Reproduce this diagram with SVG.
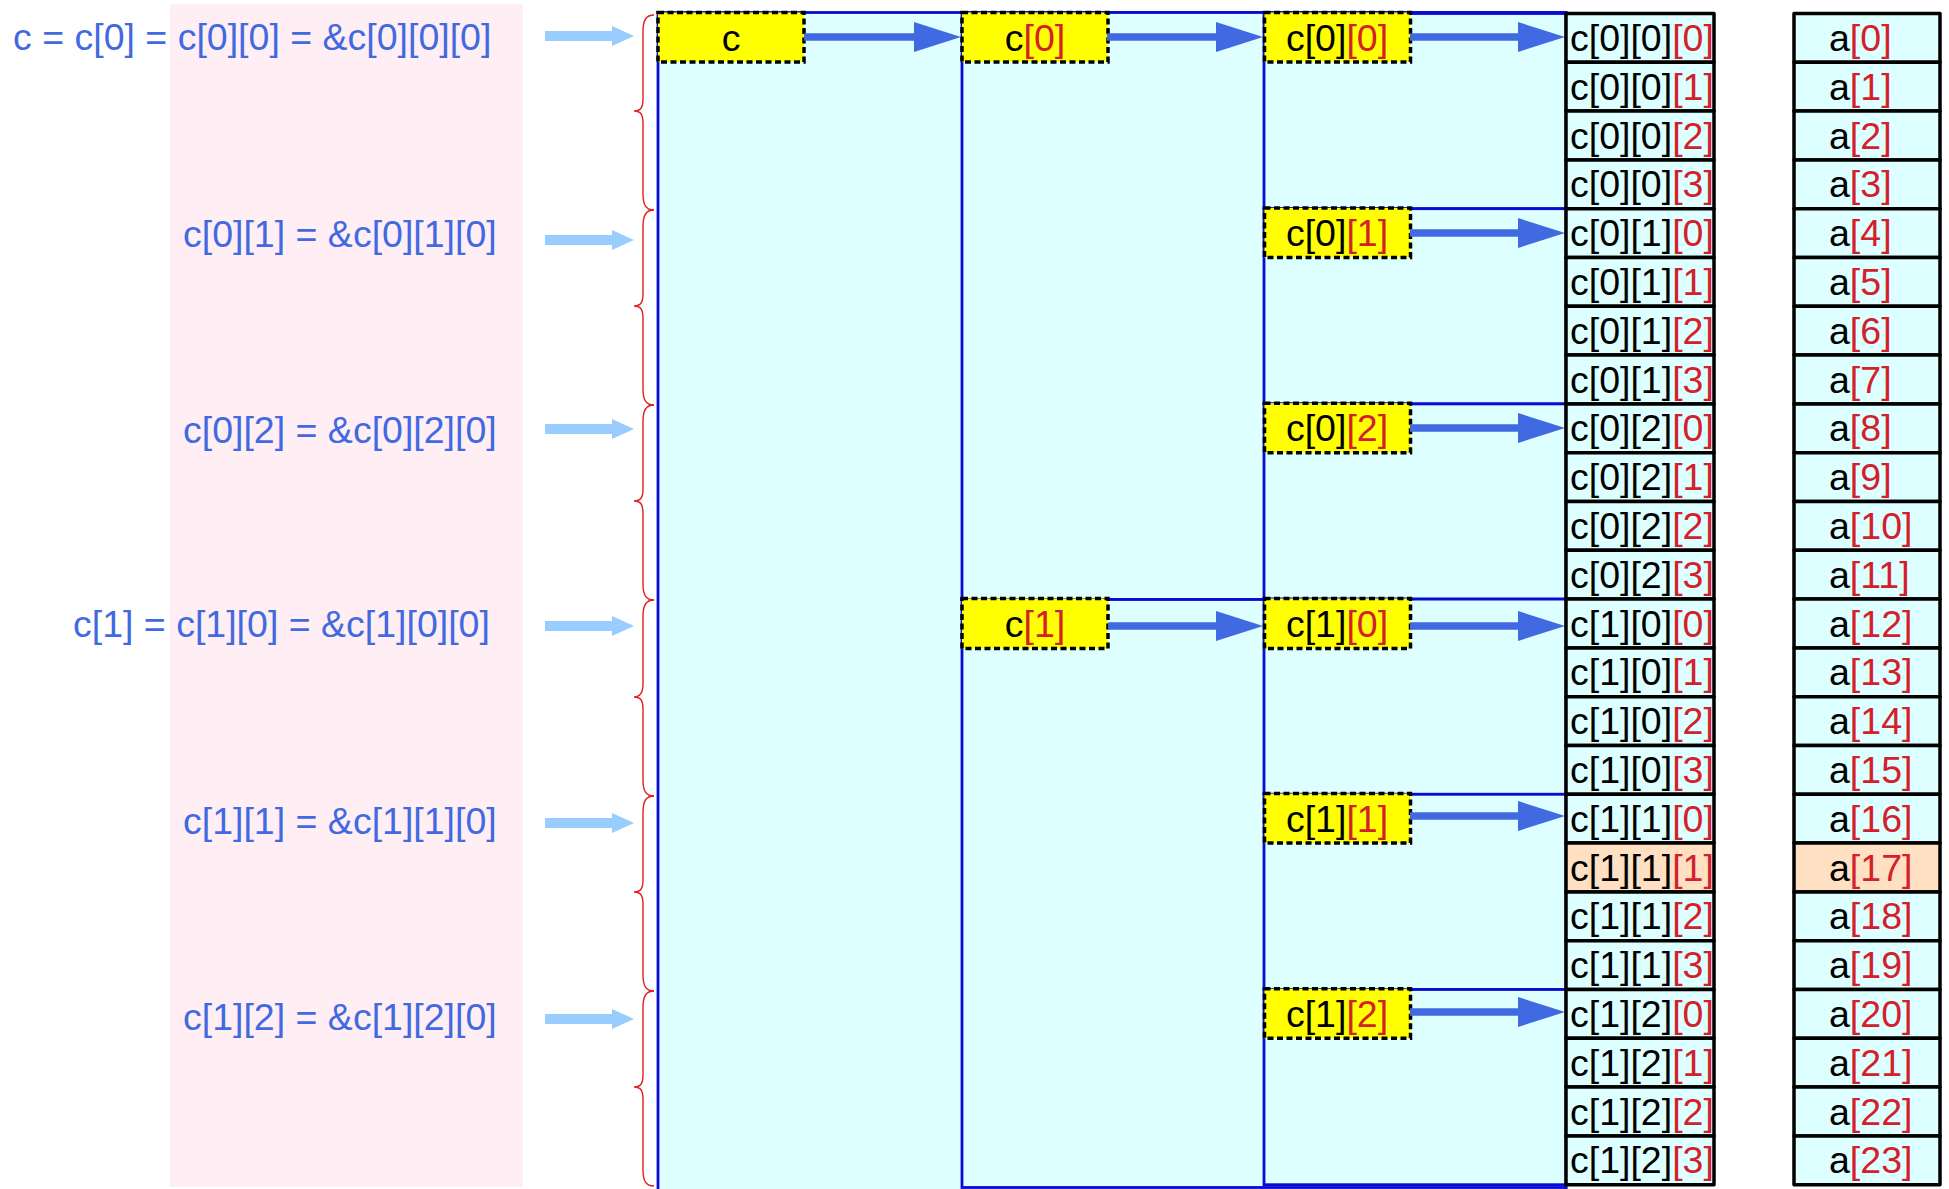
<svg xmlns="http://www.w3.org/2000/svg" width="1949" height="1189" viewBox="0 0 1949 1189">
<defs>
<style>
text{font-family:"Liberation Sans",Arial,sans-serif;font-size:37.5px}
.lbl{fill:#4169e1}
.r{fill:#d4202a}
.reg{fill:#ddffff;stroke:#0a0ad2;stroke-width:2.8}
.yb{fill:#ffff00;stroke:#000;stroke-width:3.5;stroke-dasharray:6 3.5}
.cell{fill:#ddffff;stroke:#000;stroke-width:3.5;stroke-linejoin:round}
.hl{fill:#ffe0c2}
.brace{fill:none;stroke:#e02020;stroke-width:1.4}
.arr{stroke:#4169e1;stroke-width:7.5;fill:none}
.larr{stroke:#99ccff;stroke-width:10;fill:none}
</style>
<marker id="ah" markerUnits="userSpaceOnUse" viewBox="0 0 47 30" refX="12" refY="15" markerWidth="47" markerHeight="30" orient="auto"><path d="M0,0 L47,15 L0,30 z" fill="#4169e1"/></marker>
<marker id="lah" markerUnits="userSpaceOnUse" viewBox="0 0 22 20" refX="8" refY="10" markerWidth="22" markerHeight="20" orient="auto"><path d="M0,0 L22,10 L0,20 z" fill="#99ccff"/></marker>
</defs>

<rect x="170" y="4" width="353" height="1183" fill="#ffeef3"/>

<g id="labels">
<text class="lbl" x="13" y="49.5">c = c[0] = c[0][0] = &amp;c[0][0][0]</text>
<text class="lbl" x="183" y="247">c[0][1] = &amp;c[0][1][0]</text>
<text class="lbl" x="183" y="443">c[0][2] = &amp;c[0][2][0]</text>
<text class="lbl" x="73" y="637">c[1] = c[1][0] = &amp;c[1][0][0]</text>
<text class="lbl" x="183" y="834">c[1][1] = &amp;c[1][1][0]</text>
<text class="lbl" x="183" y="1030">c[1][2] = &amp;c[1][2][0]</text>
</g>

<g id="pointer-arrows">
<line class="larr" x1="545" y1="36" x2="620" y2="36" marker-end="url(#lah)"/>
<line class="larr" x1="545" y1="240" x2="620" y2="240" marker-end="url(#lah)"/>
<line class="larr" x1="545" y1="429" x2="620" y2="429" marker-end="url(#lah)"/>
<line class="larr" x1="545" y1="626" x2="620" y2="626" marker-end="url(#lah)"/>
<line class="larr" x1="545" y1="823" x2="620" y2="823" marker-end="url(#lah)"/>
<line class="larr" x1="545" y1="1019" x2="620" y2="1019" marker-end="url(#lah)"/>
</g>

<g id="braces">
<path class="brace" d="M654,15 C646,15 643,20 643,32 L643,99 C643,107 641,111 634,111 C641,111 643,115 643,123 L643,194 C643,205 646,210 654,210"/>
<path class="brace" d="M654,210 C646,210 643,215 643,227 L643,294 C643,302 641,306 634,306 C641,306 643,310 643,318 L643,389 C643,400 646,405 654,405"/>
<path class="brace" d="M654,405 C646,405 643,410 643,422 L643,489 C643,497 641,501 634,501 C641,501 643,505 643,513 L643,584 C643,595 646,600 654,600"/>
<path class="brace" d="M654,600 C646,600 643,605 643,617 L643,684 C643,692 641,697 634,697 C641,697 643,701 643,709 L643,780 C643,791 646,796 654,796"/>
<path class="brace" d="M654,796 C646,796 643,801 643,813 L643,880 C643,888 641,892 634,892 C641,892 643,896 643,904 L643,975 C643,986 646,991 654,991"/>
<path class="brace" d="M654,991 C646,991 643,996 643,1008 L643,1075 C643,1083 641,1087 634,1087 C641,1087 643,1091 643,1099 L643,1170 C643,1181 646,1186 654,1186"/>
</g>

<g id="regions">
<rect class="reg" x="658" y="12.5" width="908" height="1180"/>
<rect class="reg" x="962" y="12.5" width="604" height="587"/>
<rect class="reg" x="962" y="599.5" width="604" height="588"/>
<rect class="reg" x="1264" y="13.5" width="302" height="195.2"/>
<rect class="reg" x="1264" y="208.7" width="302" height="195.2"/>
<rect class="reg" x="1264" y="403.9" width="302" height="195.2"/>
<rect class="reg" x="1264" y="599.1" width="302" height="195.2"/>
<rect class="reg" x="1264" y="794.3" width="302" height="195.2"/>
<rect class="reg" x="1264" y="989.5" width="302" height="195.2"/>
</g>

<g id="node-c"><rect class="yb" x="658" y="12.5" width="146" height="49.5"/><text x="731" y="51" text-anchor="middle">c</text></g>
<g id="node-c0"><rect class="yb" x="962" y="12.5" width="146" height="49.5"/><text x="1035" y="51" text-anchor="middle">c<tspan class="r">[0]</tspan></text></g>
<g id="node-c1"><rect class="yb" x="962" y="598.5" width="146" height="50"/><text x="1035" y="637" text-anchor="middle">c<tspan class="r">[1]</tspan></text></g>
<g id="node-c00"><rect class="yb" x="1264.5" y="12.5" width="146" height="49.5"/><text x="1337" y="51" text-anchor="middle">c[0]<tspan class="r">[0]</tspan></text></g>
<g id="node-c01"><rect class="yb" x="1264.5" y="208" width="146" height="49.5"/><text x="1337" y="246.2" text-anchor="middle">c[0]<tspan class="r">[1]</tspan></text></g>
<g id="node-c02"><rect class="yb" x="1264.5" y="403.2" width="146" height="49.5"/><text x="1337" y="441.4" text-anchor="middle">c[0]<tspan class="r">[2]</tspan></text></g>
<g id="node-c10"><rect class="yb" x="1264.5" y="598.5" width="146" height="50"/><text x="1337" y="636.6" text-anchor="middle">c[1]<tspan class="r">[0]</tspan></text></g>
<g id="node-c11"><rect class="yb" x="1264.5" y="793.6" width="146" height="49.5"/><text x="1337" y="831.8" text-anchor="middle">c[1]<tspan class="r">[1]</tspan></text></g>
<g id="node-c12"><rect class="yb" x="1264.5" y="988.8" width="146" height="49.5"/><text x="1337" y="1027" text-anchor="middle">c[1]<tspan class="r">[2]</tspan></text></g>

<g id="connectors">
<line class="arr" x1="804" y1="37" x2="926" y2="37" marker-end="url(#ah)"/>
<line class="arr" x1="1107" y1="37" x2="1228" y2="37" marker-end="url(#ah)"/>
<line class="arr" x1="1108" y1="626" x2="1228" y2="626" marker-end="url(#ah)"/>
<line class="arr" x1="1410" y1="37" x2="1530" y2="37" marker-end="url(#ah)"/>
<line class="arr" x1="1410" y1="233" x2="1530" y2="233" marker-end="url(#ah)"/>
<line class="arr" x1="1410" y1="428" x2="1530" y2="428" marker-end="url(#ah)"/>
<line class="arr" x1="1410" y1="626" x2="1530" y2="626" marker-end="url(#ah)"/>
<line class="arr" x1="1410" y1="816" x2="1530" y2="816" marker-end="url(#ah)"/>
<line class="arr" x1="1410" y1="1012" x2="1530" y2="1012" marker-end="url(#ah)"/>
</g>

<g id="c-cells">
<rect class="cell" x="1566" y="13.5" width="148" height="48.8"/><text x="1570" y="51">c[0][0]<tspan class="r">[0]</tspan></text>
<rect class="cell" x="1566" y="62.3" width="148" height="48.8"/><text x="1570" y="99.8">c[0][0]<tspan class="r">[1]</tspan></text>
<rect class="cell" x="1566" y="111.1" width="148" height="48.8"/><text x="1570" y="148.6">c[0][0]<tspan class="r">[2]</tspan></text>
<rect class="cell" x="1566" y="159.9" width="148" height="48.8"/><text x="1570" y="197.4">c[0][0]<tspan class="r">[3]</tspan></text>
<rect class="cell" x="1566" y="208.7" width="148" height="48.8"/><text x="1570" y="246.2">c[0][1]<tspan class="r">[0]</tspan></text>
<rect class="cell" x="1566" y="257.5" width="148" height="48.8"/><text x="1570" y="295">c[0][1]<tspan class="r">[1]</tspan></text>
<rect class="cell" x="1566" y="306.3" width="148" height="48.8"/><text x="1570" y="343.8">c[0][1]<tspan class="r">[2]</tspan></text>
<rect class="cell" x="1566" y="355.1" width="148" height="48.8"/><text x="1570" y="392.6">c[0][1]<tspan class="r">[3]</tspan></text>
<rect class="cell" x="1566" y="403.9" width="148" height="48.8"/><text x="1570" y="441.4">c[0][2]<tspan class="r">[0]</tspan></text>
<rect class="cell" x="1566" y="452.7" width="148" height="48.8"/><text x="1570" y="490.2">c[0][2]<tspan class="r">[1]</tspan></text>
<rect class="cell" x="1566" y="501.5" width="148" height="48.8"/><text x="1570" y="539">c[0][2]<tspan class="r">[2]</tspan></text>
<rect class="cell" x="1566" y="550.3" width="148" height="48.8"/><text x="1570" y="587.8">c[0][2]<tspan class="r">[3]</tspan></text>
<rect class="cell" x="1566" y="599.1" width="148" height="48.8"/><text x="1570" y="636.6">c[1][0]<tspan class="r">[0]</tspan></text>
<rect class="cell" x="1566" y="647.9" width="148" height="48.8"/><text x="1570" y="685.4">c[1][0]<tspan class="r">[1]</tspan></text>
<rect class="cell" x="1566" y="696.7" width="148" height="48.8"/><text x="1570" y="734.2">c[1][0]<tspan class="r">[2]</tspan></text>
<rect class="cell" x="1566" y="745.5" width="148" height="48.8"/><text x="1570" y="783">c[1][0]<tspan class="r">[3]</tspan></text>
<rect class="cell" x="1566" y="794.3" width="148" height="48.8"/><text x="1570" y="831.8">c[1][1]<tspan class="r">[0]</tspan></text>
<rect class="cell hl" x="1566" y="843.1" width="148" height="48.8"/><text x="1570" y="880.6">c[1][1]<tspan class="r">[1]</tspan></text>
<rect class="cell" x="1566" y="891.9" width="148" height="48.8"/><text x="1570" y="929.4">c[1][1]<tspan class="r">[2]</tspan></text>
<rect class="cell" x="1566" y="940.7" width="148" height="48.8"/><text x="1570" y="978.2">c[1][1]<tspan class="r">[3]</tspan></text>
<rect class="cell" x="1566" y="989.5" width="148" height="48.8"/><text x="1570" y="1027">c[1][2]<tspan class="r">[0]</tspan></text>
<rect class="cell" x="1566" y="1038.3" width="148" height="48.8"/><text x="1570" y="1075.8">c[1][2]<tspan class="r">[1]</tspan></text>
<rect class="cell" x="1566" y="1087.1" width="148" height="48.8"/><text x="1570" y="1124.6">c[1][2]<tspan class="r">[2]</tspan></text>
<rect class="cell" x="1566" y="1135.9" width="148" height="48.8"/><text x="1570" y="1173.4">c[1][2]<tspan class="r">[3]</tspan></text>
</g>

<g id="a-cells">
<rect class="cell" x="1794" y="13.5" width="146" height="48.8"/><text x="1829" y="51">a<tspan class="r">[0]</tspan></text>
<rect class="cell" x="1794" y="62.3" width="146" height="48.8"/><text x="1829" y="99.8">a<tspan class="r">[1]</tspan></text>
<rect class="cell" x="1794" y="111.1" width="146" height="48.8"/><text x="1829" y="148.6">a<tspan class="r">[2]</tspan></text>
<rect class="cell" x="1794" y="159.9" width="146" height="48.8"/><text x="1829" y="197.4">a<tspan class="r">[3]</tspan></text>
<rect class="cell" x="1794" y="208.7" width="146" height="48.8"/><text x="1829" y="246.2">a<tspan class="r">[4]</tspan></text>
<rect class="cell" x="1794" y="257.5" width="146" height="48.8"/><text x="1829" y="295">a<tspan class="r">[5]</tspan></text>
<rect class="cell" x="1794" y="306.3" width="146" height="48.8"/><text x="1829" y="343.8">a<tspan class="r">[6]</tspan></text>
<rect class="cell" x="1794" y="355.1" width="146" height="48.8"/><text x="1829" y="392.6">a<tspan class="r">[7]</tspan></text>
<rect class="cell" x="1794" y="403.9" width="146" height="48.8"/><text x="1829" y="441.4">a<tspan class="r">[8]</tspan></text>
<rect class="cell" x="1794" y="452.7" width="146" height="48.8"/><text x="1829" y="490.2">a<tspan class="r">[9]</tspan></text>
<rect class="cell" x="1794" y="501.5" width="146" height="48.8"/><text x="1829" y="539">a<tspan class="r">[10]</tspan></text>
<rect class="cell" x="1794" y="550.3" width="146" height="48.8"/><text x="1829" y="587.8">a<tspan class="r">[11]</tspan></text>
<rect class="cell" x="1794" y="599.1" width="146" height="48.8"/><text x="1829" y="636.6">a<tspan class="r">[12]</tspan></text>
<rect class="cell" x="1794" y="647.9" width="146" height="48.8"/><text x="1829" y="685.4">a<tspan class="r">[13]</tspan></text>
<rect class="cell" x="1794" y="696.7" width="146" height="48.8"/><text x="1829" y="734.2">a<tspan class="r">[14]</tspan></text>
<rect class="cell" x="1794" y="745.5" width="146" height="48.8"/><text x="1829" y="783">a<tspan class="r">[15]</tspan></text>
<rect class="cell" x="1794" y="794.3" width="146" height="48.8"/><text x="1829" y="831.8">a<tspan class="r">[16]</tspan></text>
<rect class="cell hl" x="1794" y="843.1" width="146" height="48.8"/><text x="1829" y="880.6">a<tspan class="r">[17]</tspan></text>
<rect class="cell" x="1794" y="891.9" width="146" height="48.8"/><text x="1829" y="929.4">a<tspan class="r">[18]</tspan></text>
<rect class="cell" x="1794" y="940.7" width="146" height="48.8"/><text x="1829" y="978.2">a<tspan class="r">[19]</tspan></text>
<rect class="cell" x="1794" y="989.5" width="146" height="48.8"/><text x="1829" y="1027">a<tspan class="r">[20]</tspan></text>
<rect class="cell" x="1794" y="1038.3" width="146" height="48.8"/><text x="1829" y="1075.8">a<tspan class="r">[21]</tspan></text>
<rect class="cell" x="1794" y="1087.1" width="146" height="48.8"/><text x="1829" y="1124.6">a<tspan class="r">[22]</tspan></text>
<rect class="cell" x="1794" y="1135.9" width="146" height="48.8"/><text x="1829" y="1173.4">a<tspan class="r">[23]</tspan></text>
</g>
</svg>
